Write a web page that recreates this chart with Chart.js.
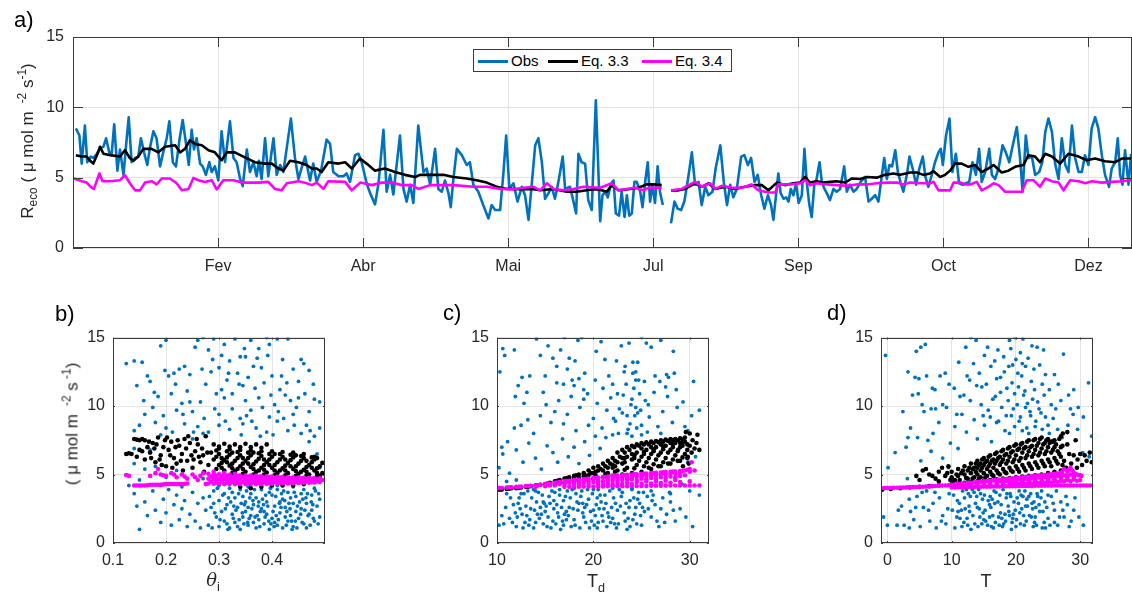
<!DOCTYPE html>
<html>
<head>
<meta charset="utf-8">
<script src="https://cdn.jsdelivr.net/npm/chart.js@4.4.1/dist/chart.umd.min.js"></script>
<style>
  body { margin: 0; width: 1132px; height: 595px; background: #fff; position: relative; overflow: hidden;
         font-family: "Liberation Sans", Arial, sans-serif; color: #262626; }
  canvas { position: absolute; }
  .txt { position: absolute; white-space: nowrap; line-height: 1; }
  .panel { font-size: 22px; color: #000; }
  .ytitle { position: absolute; white-space: nowrap; line-height: 1; transform: translate(-50%, -50%) rotate(-90deg); }
  .xtitle { position: absolute; white-space: nowrap; line-height: 1; transform: translateX(-50%); font-size: 18px; }
  sub, sup { font-size: 70%; line-height: 0; }
  #legend { position: absolute; left: 473px; top: 49px; width: 259px; height: 23px; border: 1px solid #3a3a3a; background: #fff; box-sizing: border-box; }
  #legend .key { position: absolute; top: 10px; width: 30px; height: 3px; }
  #legend .ktxt { position: absolute; top: 3px; font-size: 15px; line-height: 15px; color: #000; }
</style>
</head>
<body>
<canvas id="topChart" width="1132" height="300" style="left:0;top:0"></canvas>
<canvas id="chartB" width="282" height="253" style="left:53px;top:320px"></canvas>
<canvas id="chartC" width="282" height="253" style="left:437px;top:320px"></canvas>
<canvas id="chartD" width="282" height="253" style="left:821px;top:320px"></canvas>

<div class="txt panel" style="left:14px;top:9px">a)</div>
<div class="txt panel" style="left:55px;top:303px">b)</div>
<div class="txt panel" style="left:443px;top:302px">c)</div>
<div class="txt panel" style="left:827px;top:302px">d)</div>

<div class="ytitle" style="left:27px;top:141px;font-size:17px">R<sub>eco</sub> ( μ mol m <sup>&nbsp;-2</sup> s<sup>-1</sup>)</div>
<div class="ytitle" style="left:72px;top:424px;font-size:17px">( μ mol m <sup>&nbsp;-2</sup> s<sup>&nbsp;-1</sup>)</div>

<div class="xtitle" style="left:213px;top:571px;font-family:'DejaVu Serif','Liberation Serif',serif;font-style:italic">θ<sub style="font-style:normal;font-family:'Liberation Sans',Arial,sans-serif">i</sub></div>
<div class="xtitle" style="left:596px;top:572px">T<sub>d</sub></div>
<div class="xtitle" style="left:986px;top:572px">T</div>

<div id="legend">
  <span class="key" style="left:4px;background:#0072BD"></span><span class="ktxt" style="left:37px">Obs</span>
  <span class="key" style="left:74px;background:#000"></span><span class="ktxt" style="left:107px">Eq. 3.3</span>
  <span class="key" style="left:168px;background:#FF00FF"></span><span class="ktxt" style="left:201px">Eq. 3.4</span>
</div>

<script>
/* ===== tick labels ===== */
const monthTicks = [50, 100, 150, 200, 250, 300, 350];
const monthNames = ['Fev', 'Abr', 'Mai', 'Jul', 'Sep', 'Oct', 'Dez'];
const rTicks = [0, 5, 10, 15];
const thetaTicks = [0.1, 0.2, 0.3, 0.4];
const tdTicks = [10, 20, 30];
const tTicks = [0, 10, 20, 30];

/* ===== daily series, [day of year, value] (null = missing data) ===== */
const obsDaily = [[1.0,8.5],[2.2,8.0],[3.0,6.0],[4.1,8.7],[4.9,6.1],[6.1,6.5],[7.0,6.4],[8.2,6.7],[9.3,7.1],[10.5,7.2],[11.4,7.8],[12.5,6.8],[13.3,6.6],[14.2,8.8],[15.3,5.5],[16.2,7.0],[17.4,5.2],[18.3,7.3],[19.2,9.3],[20.2,6.1],[21.4,6.4],[22.5,6.5],[23.4,7.8],[24.5,6.8],[25.6,5.9],[26.5,7.1],[27.7,8.3],[28.8,7.8],[30.0,5.8],[31.1,6.8],[32.3,7.8],[33.2,9.0],[34.4,6.1],[35.5,5.8],[36.7,7.7],[37.8,9.1],[38.9,7.5],[39.9,5.9],[40.9,8.4],[41.7,7.0],[42.6,7.8],[43.8,6.0],[44.7,5.8],[45.8,5.2],[47.0,6.1],[47.8,5.4],[48.9,5.8],[50.1,4.8],[51.2,8.3],[52.4,6.1],[54.1,9.0],[55.3,6.4],[56.4,6.1],[57.6,4.9],[58.5,4.4],[59.9,7.0],
  [61.0,5.4],[62.2,6.1],[63.3,5.1],[64.1,6.2],[65.0,4.9],[66.2,7.8],[67.3,5.1],[69.1,7.8],[70.2,5.2],[71.4,5.9],[72.5,5.4],[75.1,9.2],[76.5,6.4],[77.7,4.9],[78.8,5.7],[80.0,6.5],[81.7,4.8],[82.8,6.0],[84.0,4.7],[85.5,5.5],[87.4,7.7],[88.6,7.4],[89.7,5.4],[91.5,5.1],[93.2,5.1],[94.3,5.3],[95.5,4.7],[97.2,6.6],[98.4,6.7],[99.5,6.1],[101.2,4.6],[102.4,3.9],[104.1,3.1],[105.3,4.6],[107.0,8.4],[108.1,4.0],[109.3,5.2],[110.4,3.8],[112.7,8.0],[113.9,4.2],[115.0,3.3],[116.2,4.5],[117.3,3.2],[119.0,8.7],
  [120.8,5.4],[121.9,5.65],[123.1,4.5],[124.8,7.05],[125.9,4.2],[127.1,4.0],[128.2,4.8],[129.4,3.9],[130.2,2.9],[131.1,4.9],[132.3,7.05],[134.0,6.6],[135.7,5.9],[136.8,6.1],[138.0,4.5],[139.7,4.0],[141.4,3.05],[143.2,2.1],[144.3,3.05],[145.5,2.7],[147.2,2.7],[148.3,5.2],[149.3,8.0],[150.4,4.2],[151.8,4.6],[153.2,3.3],[154.7,4.35],[155.8,3.75],[157.0,2.0],[158.1,4.5],[159.3,7.3],[160.4,7.8],[161.6,6.1],[162.7,3.5],[163.9,3.9],[165.0,4.35],[166.1,3.5],[167.3,4.7],[168.8,6.5],[169.6,4.2],[171.3,4.35],[172.5,3.3],[173.4,2.45],[174.2,6.7],[175.3,6.1],[176.5,6.0],[177.6,3.4],[178.8,2.7],[180.2,10.5],[181.7,1.9],[182.5,3.75],[183.4,4.0],[184.3,3.6],[185.5,4.6],[186.3,4.8],[187.1,2.45],[188.2,2.3],[189.1,4.0],[190.1,2.2],[190.9,3.75],[191.7,2.3],[192.6,2.45],[193.5,4.7],[194.3,4.7],[195.5,4.0],[196.3,2.9],[197.2,4.7],[198.1,6.1],[198.9,3.3],[199.7,4.5],[200.6,3.2],[201.5,5.8],[202.3,4.0],[203.3,3.05],[204.7,null],
  [206.1,1.75],[207.3,3.3],[208.4,2.8],[209.6,2.7],[210.7,3.3],[211.9,4.8],[213.3,6.8],[214.4,4.5],[215.6,4.7],[216.7,3.05],[217.9,4.35],[219.0,3.75],[220.4,4.0],[221.5,5.65],[223.1,7.3],[224.3,4.7],[225.4,3.05],[226.5,4.5],[227.6,3.6],[228.8,4.2],[230.3,6.5],[231.4,6.6],[232.6,5.9],[233.7,6.4],[234.9,4.7],[236.0,5.2],[237.2,3.75],[238.3,2.8],[239.5,3.75],[240.6,3.05],[241.4,2.0],[242.3,3.75],[243.1,5.3],[243.9,3.9],[244.9,3.5],[245.8,3.6],[246.6,3.3],[247.4,4.2],[248.3,3.75],[249.2,4.6],[250.1,3.2],[251.2,3.75],[252.1,7.05],[252.9,4.7],[253.8,3.05],[254.6,2.2],[255.5,4.5],[256.3,4.9],[257.3,6.1],[258.1,4.7],[259.0,4.2],[259.8,3.9],[260.9,3.4],[262.1,4.2],[263.2,4.0],[264.4,4.2],[265.8,5.8],[266.7,4.0],[267.8,4.5],[269.0,4.0],[270.1,4.2],[271.5,4.7],[273.0,5.05],[274.2,3.3],[275.3,3.5],[276.5,3.75],[277.6,3.3],[278.8,5.2],[279.6,6.4],[280.5,4.9],[281.4,5.9],[282.3,5.8],[283.4,6.95],[284.3,5.4],[285.3,4.6],[286.2,4.0],[287.4,5.2],[288.3,6.5],[289.4,5.65],[290.6,4.5],[291.7,5.65],[292.9,6.5],[293.8,5.05],[294.8,4.35],[296.0,5.2],[297.1,6.1],[298.3,6.8],[299.1,7.05],[299.8,5.9],[300.9,8.0],[302.1,9.2],
  [303.1,5.4],[304.3,6.7],[305.4,4.6],[306.6,4.5],[307.7,4.6],[308.9,4.7],[310.0,6.1],[311.2,5.2],[312.3,7.05],[313.2,4.7],[314.4,5.4],[315.8,7.05],[316.7,5.2],[317.8,4.9],[319.0,5.65],[320.4,7.3],[321.5,6.8],[322.7,6.1],[323.8,7.2],[325.3,8.6],[326.4,6.4],[327.3,4.0],[328.4,8.0],[329.3,6.4],[330.5,6.5],[331.6,5.2],[333.0,5.4],[334.1,6.1],[335.1,8.25],[336.2,9.2],[337.4,8.25],[338.5,6.0],[339.7,4.9],[340.8,7.8],[342.0,5.9],[343.1,5.4],[344.3,8.7],[345.4,6.4],[346.6,5.4],[347.7,5.4],[348.8,6.6],[350.0,5.9],[351.1,8.5],[352.3,9.3],[353.4,8.5],[354.6,6.6],[355.7,5.2],[357.1,4.35],[358.0,5.65],[359.2,6.1],[360.1,7.8],[360.9,5.2],[361.7,4.5],[362.6,6.95],[363.8,4.5],[364.7,6.7]];

const eq33Daily = [[1.0,6.6],[3.0,6.5],[4.7,6.5],[5.9,6.2],[7.0,6.0],[8.7,6.8],[9.3,7.2],[10.5,6.7],[12.8,6.6],[16.2,6.5],[17.9,6.95],[19.6,6.4],[20.8,6.2],[22.5,6.5],[24.2,7.05],[27.1,7.05],[29.4,6.8],[31.7,7.2],[35.2,7.3],[36.9,6.8],[38.6,7.05],[40.3,7.66],[42.1,7.4],[44.4,7.3],[46.7,6.95],[48.9,6.8],[51.2,6.24],[53.0,6.8],[55.8,6.8],[58.7,6.5],[62.7,6.1],[66.2,6.0],[68.5,6.0],[70.8,5.65],[72.5,5.5],[74.8,6.2],[77.7,6.1],[80.5,5.9],[82.3,5.65],[84.0,5.65],[85.7,5.4],[88.0,6.1],[91.5,6.0],[93.8,6.1],[96.1,5.65],[98.9,6.36],[101.2,6.0],[104.1,5.5],[107.5,5.65],[111.0,5.4],[114.4,5.2],[117.9,5.05],[119.6,5.2],[124.2,5.2],[127.7,5.2],[131.1,5.05],[135.7,4.94],[139.1,4.82],[142.6,4.65],[146.0,4.35],[149.5,4.2],[154.1,4.18],[158.7,4.18],[161.0,4.1],[165.6,4.2],[170.2,4.0],[173.6,4.0],[177.1,4.1],[179.9,4.18],[182.2,4.1],[184.0,4.0],[185.7,4.47],[188.0,4.1],[191.4,4.18],[194.9,4.28],[197.7,4.52],[200.0,4.52],[202.9,4.47],[204.7,null],
  [206.1,4.1],[208.7,4.1],[211.0,4.2],[214.4,4.6],[216.7,4.35],[219.0,4.6],[221.3,4.2],[224.8,4.35],[228.2,4.2],[231.6,4.35],[235.1,4.47],[237.4,4.47],[239.7,4.1],[242.6,4.65],[245.4,4.47],[248.3,4.6],[250.6,4.65],[252.3,5.05],[254.0,4.65],[256.3,4.75],[258.6,4.65],[261.0,4.7],[263.2,4.75],[266.1,4.65],[268.4,4.94],[271.3,4.9],[273.6,5.05],[277.0,5.0],[279.9,5.2],[282.8,5.3],[285.1,5.2],[288.5,5.37],[290.8,5.37],[293.1,5.2],[295.4,5.3],[296.6,5.46],[298.9,5.05],[300.6,5.2],[302.3,5.5],[304.0,6.0],[306.3,6.0],[308.6,5.77],[310.9,5.9],[313.2,5.4],[315.5,5.65],[317.3,5.9],[320.1,5.37],[322.4,5.5],[324.7,5.77],[327.6,5.9],[329.3,6.6],[331.6,6.5],[333.3,6.1],[335.1,6.7],[337.4,6.5],[340.2,6.0],[343.1,6.7],[346.6,6.5],[349.4,6.24],[352.3,6.36],[355.7,6.17],[359.2,6.1],[361.5,6.36],[364.9,6.36]];

const eq34Daily = [[0.3,4.94],[3.0,4.75],[4.7,4.65],[6.1,4.35],[7.2,4.2],[9.1,5.3],[10.2,4.75],[12.8,4.75],[16.2,4.82],[17.9,5.17],[19.6,4.6],[21.4,4.1],[23.1,4.1],[24.8,4.65],[27.1,4.75],[28.8,4.52],[30.6,4.94],[33.4,4.94],[35.7,4.6],[37.5,4.1],[39.8,4.2],[41.5,4.98],[43.2,4.82],[45.5,4.7],[47.8,4.82],[49.5,4.16],[51.8,4.82],[55.3,4.82],[57.6,4.7],[59.3,4.65],[63.9,4.65],[67.3,4.7],[69.6,4.2],[71.9,4.1],[73.7,4.6],[77.7,4.75],[80.5,4.6],[82.3,4.47],[84.0,4.65],[86.3,4.2],[88.0,4.75],[93.8,4.7],[96.1,4.1],[99.0,4.65],[103.0,4.47],[106.4,4.65],[109.9,4.65],[113.3,4.47],[116.7,4.47],[119.0,4.2],[123.1,4.47],[131.1,4.47],[138.0,4.35],[142.6,4.35],[147.2,4.2],[151.8,4.18],[155.2,4.28],[158.7,4.35],[161.0,4.1],[163.3,4.6],[165.6,4.2],[169.0,4.1],[172.5,4.2],[175.9,4.35],[181.7,4.28],[185.7,4.6],[188.0,4.1],[193.7,4.28],[196.6,4.1],[198.3,4.28],[202.9,4.28],[204.7,null],
  [206.1,4.1],[209.8,4.2],[214.4,4.7],[216.7,4.35],[219.6,4.6],[221.3,4.2],[223.6,4.42],[227.1,4.28],[230.5,4.28],[233.9,4.52],[236.2,4.1],[239.7,3.95],[242.0,3.95],[243.1,4.52],[247.2,4.52],[250.6,4.6],[252.3,4.82],[254.0,4.47],[256.3,4.6],[259.8,4.52],[263.2,4.47],[266.7,4.42],[270.1,4.52],[273.6,4.52],[277.0,4.6],[280.5,4.65],[284.0,4.65],[286.2,4.52],[288.5,4.65],[292.0,4.6],[295.4,4.6],[296.6,4.7],[298.3,4.1],[302.3,4.1],[303.5,4.65],[305.8,4.65],[307.5,4.52],[309.2,4.52],[311.5,4.7],[313.2,4.1],[315.5,4.35],[317.3,4.6],[319.0,4.47],[321.3,4.0],[327.0,4.0],[328.7,4.82],[331.0,4.82],[333.3,4.35],[335.1,4.94],[337.4,4.75],[339.7,4.65],[341.4,4.1],[343.7,4.82],[346.6,4.75],[348.9,4.6],[351.2,4.75],[354.6,4.65],[358.0,4.7],[361.5,4.75],[365.0,4.82]];

/* ===== b) Reco vs soil moisture theta_i ===== */
const obsTheta = [[0.125,13.1],[0.14,13.3],[0.155,13.2],[0.145,11.5],[0.165,12.2],[0.17,11.8],[0.19,14.4],[0.2,14.8],[0.205,12.2],[0.215,12.4],[0.225,12.7],[0.235,12.9],[0.245,12.3],[0.255,14.3],[0.26,14.8],[0.27,15],[0.28,14.1],[0.29,14.9],[0.3,12.8],[0.305,13.7],[0.31,14.5],[0.32,13.3],[0.33,14.9],[0.34,13.6],[0.35,13.6],[0.36,14.8],[0.365,12.9],[0.375,14.2],[0.38,12.8],[0.39,15],[0.395,14.5],[0.41,14.9],[0.42,13.4],[0.44,12.7],[0.455,13.4],[0.46,13.1],[0.47,12.6],[0.43,14.9],[0.335,12.4],[0.285,12.5],[0.315,11.9],[0.345,11.5],[0.355,12.1],[0.385,11.7],[0.4,12.2],[0.415,11.2],[0.425,10.8],[0.45,10.6],[0.48,10.5],[0.49,10.3],[0.47,9.6],[0.465,8.6],[0.44,9.4],[0.435,10.4],[0.405,10.1],[0.395,9.2],[0.375,10.6],[0.36,9.7],[0.35,10.4],[0.34,9.1],[0.325,9.8],[0.31,10.6],[0.3,9.4],[0.295,10.9],[0.275,11.6],[0.265,10.3],[0.25,9.6],[0.24,11.1],[0.23,10.2],[0.22,9.7],[0.21,10.9],[0.195,9.3],[0.185,10.7],[0.175,9.9],[0.16,9.4],[0.15,8.6],[0.14,8.2],[0.18,8.8],[0.2,8.4],[0.235,8.7],[0.26,8.5],[0.28,8.1],[0.3,8.6],[0.32,8.3],[0.345,8.7],[0.37,8.4],[0.39,8.1],[0.41,8.9],[0.43,8.2],[0.455,8.0],[0.48,7.8],[0.49,8.4],
  [0.305,11.2],[0.325,10.9],[0.338,11.6],[0.352,9.3],[0.368,11.3],[0.382,9.9],[0.398,10.8],[0.412,9.6],[0.428,11.7],[0.446,9.9],[0.462,10.9],[0.312,8.9],[0.342,7.9],[0.362,8.9],[0.378,7.8],[0.402,7.9],[0.422,9.1],[0.442,8.6],[0.472,8.2],[0.292,9.8],[0.272,9.1],[0.245,10.3],[0.218,11.6],[0.198,12.6],[0.178,11.0],[0.158,10.4],[0.212,8.1],[0.252,8.1],[0.232,9.4],[0.268,12.7],[0.288,13.4],[0.318,12.4],[0.348,14.2],[0.372,13.5],[0.392,13.7],[0.418,12.2],[0.45,11.8],[0.478,11.6],
  [0.14,6.9],[0.16,7.5],[0.47,7.4],[0.485,6.5],[0.49,5.5],[0.125,5.0],[0.13,4.2],[0.14,5.8],[0.15,4.6],[0.18,5.6],[0.2,4.8],[0.22,5.3],[0.17,6.8],[0.19,7.9],[0.25,7.6],[0.27,8.0],[0.32,4.5],[0.36,4.6],[0.4,4.5],[0.45,4.6],[0.48,4.0],[0.27,4.7],[0.23,4.1],[0.19,4.2],[0.16,5.4],
  [0.14,3.6],[0.145,2.7],[0.15,1.0],[0.16,3.0],[0.165,2.0],[0.175,3.8],[0.18,2.4],[0.19,1.5],[0.195,3.2],[0.2,2.2],[0.205,3.9],[0.21,1.3],[0.215,2.8],[0.22,3.5],[0.225,1.7],[0.23,2.5],[0.235,3.1],[0.24,1.2],[0.245,2.1],[0.25,3.7],[0.255,1.6],[0.26,2.9],[0.265,1.1],[0.27,3.3],[0.275,2.4],
  [0.28,1.3],[0.285,2.6],[0.29,3.8],[0.295,1.9],[0.3,3.1],[0.3,1.2],[0.305,2.3],[0.31,3.6],[0.31,1.6],[0.315,2.8],[0.32,4.0],[0.32,1.1],[0.325,2.1],[0.33,3.3],[0.33,1.5],[0.335,2.6],[0.34,3.9],[0.34,1.0],[0.345,1.9],[0.35,3.0],[0.35,2.3],[0.355,1.3],[0.36,3.6],[0.36,2.0],[0.365,2.8],[0.37,1.1],[0.37,3.3],[0.375,1.7],[0.38,2.5],[0.38,3.9],[0.385,1.4],[0.39,3.0],[0.39,2.1],[0.395,1.0],[0.4,3.5],[0.4,1.8],[0.405,2.7],[0.41,1.3],[0.41,3.9],[0.415,2.2],[0.42,3.2],[0.42,1.1],[0.425,2.6],[0.43,1.6],[0.43,3.7],[0.435,2.0],[0.44,2.9],[0.44,1.2],[0.445,3.4],[0.45,1.8],[0.455,2.5],[0.46,3.9],[0.46,1.4],[0.465,2.9],[0.47,2.1],[0.475,3.5],[0.48,1.6],[0.485,2.7],[0.49,3.2],[0.49,1.9],
  [0.29,2.9],[0.3,4.2],[0.315,1.4],[0.325,3.7],[0.335,1.2],[0.345,3.4],[0.355,2.6],[0.365,1.5],[0.375,3.0],[0.385,2.3],[0.395,3.7],[0.405,1.5],[0.415,3.0],[0.425,1.9],[0.435,3.3],[0.445,2.3],[0.455,3.6],[0.465,1.1],[0.475,2.4],[0.355,4.1],[0.38,4.3],[0.41,4.2],[0.33,4.4],[0.44,4.1],
  [0.282,3.4],[0.287,1.1],[0.292,2.2],[0.297,4.0],[0.302,1.7],[0.307,3.5],[0.312,2.5],[0.317,1.0],[0.322,3.0],[0.327,1.8],[0.332,2.4],[0.337,3.6],[0.342,2.9],[0.347,1.4],[0.352,3.8],[0.357,1.8],[0.362,2.5],[0.367,3.9],[0.372,2.0],[0.377,1.2],[0.382,3.2],[0.387,1.9],[0.392,2.7],[0.397,4.0],[0.402,2.3],[0.407,3.4],[0.412,1.7],[0.417,2.6],[0.422,3.8],[0.427,1.3],[0.432,2.9],[0.437,1.6],[0.442,3.7],[0.447,1.1],[0.452,3.0],[0.457,1.5],[0.462,2.4],[0.467,3.6],[0.472,1.3],[0.477,2.8],[0.482,3.8],[0.487,1.4],[0.318,3.3],[0.328,2.7],[0.338,1.7],[0.348,2.8],[0.358,3.3],[0.368,1.9],[0.378,2.3],[0.388,3.5],[0.398,1.4],[0.408,2.0],[0.418,3.6],[0.428,2.3],[0.438,1.0],[0.448,2.7],[0.458,3.2],[0.468,2.0],[0.478,1.8],[0.488,3.6],[0.344,2.2],[0.364,3.1],[0.384,2.8],[0.404,1.2],[0.424,3.1],[0.444,1.6],[0.464,3.3],[0.354,1.5],[0.374,2.7],[0.394,1.6],[0.414,2.9],[0.434,2.5],[0.454,2.1],[0.474,3.0]];

const eq33Theta = [[0.125,6.5],[0.13,6.55],[0.135,6.5],[0.14,7.6],[0.145,7.55],[0.15,7.5],[0.155,7.6],[0.16,7.5],[0.145,6.3],[0.15,6.8],[0.16,6.1],[0.165,7.0],[0.17,6.6],[0.175,7.3],[0.18,5.9],[0.185,7.7],[0.19,6.4],[0.195,7.0],[0.2,5.6],[0.205,6.8],[0.21,7.4],[0.215,6.2],[0.22,5.8],[0.225,7.1],[0.23,6.5],[0.235,7.6],[0.24,6.0],[0.245,7.3],[0.25,5.5],[0.255,6.7],[0.26,7.2],[0.265,5.9],[0.27,6.4],[0.275,7.8],[0.28,5.7],
  [0.168,7.4],[0.178,6.9],[0.188,6.1],[0.198,7.5],[0.208,6.4],[0.218,7.0],[0.228,6.0],[0.238,6.9],[0.248,6.4],[0.258,7.6],[0.268,6.9],[0.278,6.6],[0.155,6.7],[0.172,6.2],[0.192,5.7],[0.212,5.5],[0.232,5.3],[0.252,6.1],[0.272,5.2],[0.182,7.2],[0.202,7.7],[0.222,7.5],[0.242,7.8],[0.262,6.3],
  [0.29,7.2],[0.31,7.25],[0.33,7.2],[0.35,7.25],[0.37,7.2],[0.39,7.2],[0.3,7.05],[0.32,7.05],[0.34,7.0],[0.36,7.0],[0.38,6.95],
  [0.3,6.9],[0.32,6.85],[0.34,6.8],[0.36,6.75],[0.38,6.7],[0.4,6.7],[0.42,6.65],[0.44,6.6],[0.46,6.5],[0.48,6.3],
  [0.3,6.5],[0.32,6.45],[0.34,6.4],[0.36,6.4],[0.38,6.35],[0.4,6.3],[0.42,6.3],[0.44,6.25],[0.46,6.2],[0.48,6.1],
  [0.29,6.1],[0.31,6.05],[0.33,6.0],[0.35,6.0],[0.37,5.95],[0.39,5.9],[0.41,5.9],[0.43,5.85],[0.45,5.8],[0.47,5.7],[0.49,5.6],
  [0.3,5.7],[0.32,5.65],[0.34,5.6],[0.36,5.55],[0.38,5.5],[0.4,5.5],[0.42,5.45],[0.44,5.4],[0.46,5.35],[0.48,5.3],
  [0.31,5.3],[0.33,5.25],[0.35,5.2],[0.37,5.2],[0.39,5.15],[0.41,5.1],[0.43,5.1],[0.45,5.05],[0.47,5.0],[0.49,4.9],
  [0.34,4.1],[0.36,4.0],[0.38,4.1],[0.4,4.2],[0.42,4.2],[0.44,4.2],[0.46,4.3],
  [0.285,6.6],[0.295,5.4],[0.305,6.2],[0.315,5.9],[0.325,6.6],[0.335,5.4],[0.345,6.2],[0.355,5.8],[0.365,6.6],[0.375,5.3],[0.385,6.1],[0.395,5.7],[0.405,6.5],[0.415,5.3],[0.425,6.1],[0.435,5.6],[0.445,6.4],[0.455,5.2],[0.465,6.0],[0.475,5.5],[0.485,6.2],[0.495,5.1],
  [0.295,6.75],[0.315,6.7],[0.335,6.65],[0.355,6.6],[0.375,6.55],[0.395,6.5],[0.415,6.5],[0.435,6.45],[0.455,6.35],[0.475,6.25],
  [0.295,6.3],[0.315,6.25],[0.335,6.2],[0.355,6.2],[0.375,6.15],[0.395,6.1],[0.415,6.1],[0.435,6.05],[0.455,6.0],[0.475,5.9],[0.495,5.85],
  [0.305,5.85],[0.325,5.8],[0.345,5.8],[0.365,5.75],[0.385,5.7],[0.405,5.7],[0.425,5.65],[0.445,5.6],[0.465,5.55],[0.485,5.45],
  [0.305,5.5],[0.325,5.45],[0.345,5.4],[0.365,5.4],[0.385,5.35],[0.405,5.3],[0.425,5.3],[0.445,5.25],[0.465,5.2],[0.485,5.1],
  [0.325,5.1],[0.345,5.05],[0.365,5.0],[0.385,5.0],[0.405,4.95],[0.425,4.95],[0.445,4.9],[0.465,4.9],[0.485,4.85]];

const eq34Theta = [[0.125,4.95],[0.13,4.9],[0.14,4.2],[0.15,4.2],[0.16,4.2],[0.17,4.25],[0.18,4.25],[0.19,4.25],[0.2,4.3],[0.21,4.3],[0.22,4.3],[0.23,4.3],[0.24,4.35],[0.145,4.2],[0.155,4.2],[0.165,4.22],[0.175,4.25],[0.185,4.25],[0.195,4.28],[0.205,4.3],[0.215,4.3],[0.225,4.3],[0.235,4.32],
  [0.17,4.9],[0.18,5.1],[0.185,5.4],[0.19,5.0],[0.2,4.9],[0.21,5.1],[0.22,4.8],[0.23,5.0],[0.24,4.7],[0.25,5.0],[0.26,4.6],[0.27,5.1],[0.275,4.3],[0.29,5.2],[0.31,5.1],[0.33,5.05],[0.195,4.95],[0.215,5.0],[0.235,4.85],[0.255,4.8],[0.265,4.9],
  [0.28,5.05],[0.29,5.03],[0.3,5.02],[0.31,5.0],[0.32,4.98],[0.33,4.97],[0.34,4.95],[0.35,4.93],[0.36,4.92],[0.37,4.9],[0.38,4.88],[0.39,4.87],[0.4,4.85],[0.41,4.83],[0.42,4.82],[0.43,4.8],[0.44,4.79],[0.45,4.78],[0.46,4.77],[0.47,4.76],[0.48,4.75],[0.49,4.72],
  [0.28,4.7],[0.29,4.7],[0.3,4.68],[0.31,4.67],[0.32,4.66],[0.33,4.65],[0.34,4.64],[0.35,4.63],[0.36,4.62],[0.37,4.61],[0.38,4.6],[0.39,4.6],[0.4,4.59],[0.41,4.58],[0.42,4.58],[0.43,4.57],[0.44,4.56],[0.45,4.56],[0.46,4.55],[0.47,4.55],[0.48,4.55],[0.49,4.55],
  [0.28,4.35],[0.29,4.33],[0.3,4.32],[0.31,4.3],[0.32,4.3],[0.33,4.3],[0.34,4.3],[0.35,4.3],[0.36,4.3],[0.37,4.3],[0.38,4.3],[0.39,4.32],[0.4,4.32],[0.41,4.33],[0.42,4.34],[0.43,4.35],[0.44,4.36],[0.45,4.38],[0.46,4.4],[0.47,4.4],[0.48,4.42],[0.49,4.45],
  [0.285,4.85],[0.305,4.85],[0.325,4.82],[0.345,4.8],[0.365,4.78],[0.385,4.75],[0.405,4.72],[0.425,4.7],[0.445,4.68],[0.465,4.66],[0.485,4.64],
  [0.285,4.5],[0.305,4.5],[0.325,4.48],[0.345,4.47],[0.365,4.46],[0.385,4.45],[0.405,4.45],[0.425,4.46],[0.445,4.46],[0.465,4.47],[0.485,4.5],
  [0.295,4.92],[0.315,4.9],[0.335,4.88],[0.355,4.86],[0.375,4.84],[0.395,4.8],[0.415,4.78],[0.435,4.74],[0.455,4.72],[0.475,4.7],
  [0.295,4.58],[0.315,4.57],[0.335,4.56],[0.355,4.55],[0.375,4.53],[0.395,4.52],[0.415,4.52],[0.435,4.5],[0.455,4.5],[0.475,4.5],[0.495,4.6],
  [0.295,4.42],[0.315,4.4],[0.335,4.38],[0.355,4.38],[0.375,4.38],[0.395,4.38],[0.415,4.39],[0.435,4.4],[0.455,4.42],[0.475,4.44]];

/* ===== c) Reco vs Td ===== */
const obsTd = [[10.3,12.5],[10.6,14.2],[10.8,13.7],[11.8,14.1],[12.2,11.5],[12.6,12.1],[13.1,11.0],[13.4,12.2],[14.1,14.9],[14.5,13.7],[15.3,14.4],[15.8,13.5],[16.2,12.9],[16.6,14.1],[17,15],[17.3,12.7],[17.8,11.9],[18.1,13.3],[18.4,14.8],[18.8,15],[19.1,12.4],[19.4,10.9],[20.3,14.0],[20.8,14.7],[21.2,13.4],[21.6,12.2],[22,11.6],[22.4,13.3],[22.9,14.4],[23.2,12.5],[23.7,14.6],[24.1,13.2],[24.4,12.5],[24.7,11.9],[25,15],[25.5,14.6],[26,14.3],[26.4,12.2],[27,14.8],[27.6,12.3],[28.3,14.0],[28.6,11.2],[29.3,10.3],[30.4,11.8],[31,9.7],
  [10.5,7.0],[11.1,7.4],[11.8,8.4],[12.5,8.6],[13.2,9.0],[13.8,8.0],[14.5,9.3],[15.1,10.1],[15.6,8.8],[16,9.6],[16.4,10.4],[16.9,8.7],[17.3,9.4],[17.7,10.7],[18.2,8.2],[18.6,9.9],[19,10.5],[19.5,8.6],[20,9.1],[20.4,10.2],[20.9,8.4],[21.4,9.7],[21.8,10.6],[22.3,8.9],[22.7,9.8],[23.1,10.8],[23.5,9.3],[23.9,10.1],[24.2,11.3],[24.6,9.5],[25,8.6],[25.4,10.4],[25.8,9.2],[26.3,11.0],[26.7,8.5],[27.2,9.6],[27.7,10.7],[28.2,8.8],[28.7,9.9],[29.5,8.5],[30.2,9.3],[24.4,9.9],[24.8,10.9],[23.6,8.3],[25.6,8.1],
  [22.1,9.1],[22.5,10.9],[23.0,9.5],[23.4,11.6],[23.8,8.7],[24.0,10.5],[24.3,9.3],[24.5,8.4],[24.9,9.7],[25.3,11.8],[25.7,10.1],[24.1,12.4],[24.4,11.9],[23.3,12.9],[24.6,13.2],[18.5,12.0],[18.0,11.5],[17.5,13.5],[19.0,11.2],[16.2,11.7],[15.0,12.2],[21.0,11.3],[26.9,11.8],[27.8,12.1],[28.4,12.4],[12.8,10.2],[11.9,10.7],[14.8,11.0],[16.9,11.6],[20.2,11.9],[27.5,11.4],[29.8,8.2],[27.0,8.0],[25.0,7.9],[24.0,7.8],[23.5,8.0],
  [10.2,5.5],[10.6,6.5],[11.3,5.1],[12,6.8],[12.7,5.9],[13.3,7.3],[14,6.2],[14.6,5.4],[15.2,7.1],[15.8,6.6],[16.3,5.9],[16.8,7.6],[17.4,6.3],[18,7.0],[18.5,5.8],[19.1,7.4],[19.6,6.4],[20.2,7.8],[20.7,6.9],[21.3,7.7],[22,7.9],[22.6,8.0],[28.5,4.6],[29.2,4.3],[30,3.8],[31,3.5],[29.8,5.9],[30.6,6.3],
  [12.5,3.6],[14.0,3.8],[16.5,3.9],[18.0,4.0],[20.5,3.9],[22.0,4.0],[24.0,4.0],[26.0,3.8],[28.0,3.6],[11.0,4.5],[12.0,4.6],
  [10.2,1.3],[10.5,2.0],[11,3.6],[11.3,1.8],[11.7,2.8],[12,1.2],[12.3,3.3],[12.6,2.1],[12.9,1.5],[13.2,3.8],[13.5,2.5],[13.8,1.1],[14.1,3.0],[14.4,1.8],[14.7,3.5],[15,2.3],[15.2,1.2],[15.5,2.9],[15.8,1.6],[16,3.7],[16.3,2.2],[16.6,1.0],[16.9,3.1],[17.2,1.7],[17.5,2.6],[17.8,3.9],[18.1,1.3],[18.4,2.4],[18.7,3.4],[19,1.9],[19.3,2.8],[19.6,1.1],[19.9,3.6],[20.2,2.0],[20.5,1.5],[20.8,3.0],[21.1,2.5],[21.4,1.2],[21.7,3.8],[22,1.8],[22.3,2.9],[22.6,1.4],[22.9,3.4],[23.2,2.2],[23.5,1.0],[23.8,3.1],[24.1,1.7],[24.4,2.6],[24.7,3.7],[25,1.3],[25.3,2.3],[25.6,3.4],[26,1.9],[26.4,2.8],[26.8,1.2],[27.2,3.3],[27.6,2.1],[28,3.0],[28.5,1.6],[29,2.5],[29.6,1.9],[30.3,1.2],
  [13,2.7],[13.6,3.3],[14.2,2.1],[14.8,1.4],[15.4,3.4],[16.1,1.4],[16.7,2.6],[17.1,3.4],[17.7,1.2],[18.3,3.0],[18.9,2.2],[19.5,3.2],[20.1,1.3],[20.6,2.5],[21.2,3.5],[21.8,1.5],[22.5,2.4],[23,3.7],[23.6,1.8],[24.2,3.3],[24.9,2.0],[14.5,2.6],[15.9,2.5],[17.4,2.0],[19.1,2.6],[20.4,3.3],[12.4,2.5],[11.6,1.5],
  [12.1,1.9],[12.8,3.6],[13.3,1.3],[13.9,2.4],[14.3,3.7],[14.9,2.9],[15.3,1.9],[15.7,3.8],[16.2,2.8],[16.8,1.6],[17.2,2.3],[17.6,3.3],[18.0,1.7],[18.5,2.9],[18.8,3.8],[19.2,1.5],[19.7,2.3],[20.0,3.9],[20.4,1.1],[20.9,2.0],[21.3,2.9],[21.6,1.9],[22.1,3.3],[22.4,1.1],[22.8,2.7],[23.3,1.6],[23.7,2.6],[24.0,3.9],[24.5,1.4],[24.8,2.9],[25.2,3.7],[25.7,2.5],[26.2,3.5],[26.6,1.6],[27.0,2.5],[27.4,1.5],[27.9,3.7],[28.3,2.4],[11.4,3.3],[12.2,2.9],[13.1,2.0],[13.8,3.9],[14.6,2.1],[15.6,1.1],[16.5,3.5],[17.3,3.8],[17.9,2.5],[18.6,1.1],[19.4,3.9],[20.3,2.8],[21.0,1.6],[21.9,2.6],[22.7,3.9],[23.4,2.9],[24.3,2.1],[25.1,2.6],[26.1,3.1],[13.4,1.7],[14.0,1.5],[15.1,2.7],[16.4,1.9],[17.0,2.1],[18.2,3.6],[19.8,1.6],[20.7,3.5],[21.5,2.2],[22.2,1.4],[23.8,1.2],[24.6,3.2],[15.9,3.1],[14.8,3.0],[16.9,1.3],[18.9,2.9],[20.0,2.4],[12.7,1.1],[11.9,2.2],[10.9,2.6],[10.7,1.4]];

const eq33Td = [[10,3.9],[10.5,3.9],[11,3.95],[11.5,4.0],[12,4.0],[12.5,4.05],[13,4.1],[13.5,4.15],[14,4.2],[14.5,4.25],[15,4.3],[15.5,4.4],[16,4.5],[16.5,4.6],[17,4.7],[17.5,4.8],[18,4.9],[18.5,5.0],[19,5.1],[19.5,5.3],[20,5.5],[20.5,5.6],[21,5.8],[21.5,6.0],[22,6.2],[22.5,6.6],[23,6.8],[23.5,7.0],[24,7.1],[24.5,7.2],[25,7.3],[25.5,7.35],[26,7.4],[26.5,7.45],[27,7.5],[27.5,7.55],[28,7.6],[28.5,7.6],[29,7.65],[29.5,7.7],
  [10.25,3.9],[11.25,3.97],[12.25,4.02],[13.25,4.12],[14.25,4.22],[15.25,4.35],[16.25,4.55],[17.25,4.75],[18.25,4.95],[17.5,4.6],[18.5,4.75],[19.5,4.95],[16.5,4.4],[15.5,4.25],
  [16,4.3],[17,4.4],[18,4.5],[19,4.6],[20,4.7],[21,4.8],[22,4.9],[23,5.0],[24,5.1],[25,5.2],[26,5.4],[27,5.6],[28,5.8],[29,6.0],
  [18,4.7],[19,4.85],[20,5.1],[21,5.3],[22,5.5],[23,5.8],[24,6.1],[25,6.3],[26,6.5],[27,6.6],[28,6.8],[29,7.0],[30,7.1],
  [20.5,5.3],[21.5,5.5],[22.5,5.9],[23.5,6.3],[24.5,6.6],[25.5,6.8],[26.5,7.0],[27.5,7.1],[28.5,7.3],[29.5,7.4],
  [21.5,5.1],[22.5,5.3],[23.5,5.5],[24.5,5.7],[25.5,5.9],[26.5,6.1],[27.5,6.2],[28.5,6.4],[29.5,6.5],
  [22,5.7],[23,6.2],[24,6.5],[25,6.9],[26,7.0],[27,7.2],[28,7.3],[29,7.3],
  [19.25,4.9],[19.75,5.1],[20.25,5.2],[20.75,5.4],[21.25,5.6],[21.75,5.8],[22.25,6.0],[22.75,6.3],[23.25,6.6],[23.75,6.8],[24.25,7.0],[24.75,7.1],[25.25,7.2],[25.75,7.2],[26.25,7.3],[26.75,7.35],[27.25,7.4],[27.75,7.45],[28.25,7.5],[28.75,7.5],[29.25,7.55],
  [20.25,4.9],[21.25,5.05],[22.25,5.2],[23.25,5.35],[24.25,5.45],[25.25,5.6],[26.25,5.75],[27.25,5.9],[28.25,6.1],[29.25,6.25],
  [22.25,5.6],[23.25,5.9],[24.25,6.2],[25.25,6.5],[26.25,6.7],[27.25,6.85],[28.25,7.0],[29.25,7.1],
  [23.25,6.2],[24.25,6.4],[25.25,6.65],[26.25,6.85],[27.25,7.05],[28.25,7.2],[29.25,7.3],
  [24.75,6.0],[25.75,6.2],[26.75,6.4],[27.75,6.6],[28.75,6.7],
  [25.75,5.5],[26.75,5.6],[27.75,5.8],[28.75,6.0],[29.75,6.2],[29.75,6.8],[29.75,7.2],
  [29.8,6.3],[30,8.0],[30.3,7.5],[30.5,6.9],[30.8,7.9],[31,6.8],[30.2,6.6],[29.9,5.8],[30.7,7.3],[29.6,8.1],[28.8,6.8],[29.3,5.6]];

const eq34Td = [[10,4.0],[10.5,4.02],[11,4.05],[11.5,4.07],[12,4.1],[12.5,4.12],[13,4.15],[13.5,4.18],[14,4.2],[14.5,4.25],[15,4.3],[15.5,4.35],[16,4.4],[16.5,4.45],[17,4.5],[17.5,4.55],[18,4.6],[18.5,4.62],[19,4.65],[19.5,4.7],[20,4.75],[20.5,4.78],[21,4.8],[21.5,4.85],[22,4.9],[22.5,4.92],[23,4.95],[23.5,4.98],[24,5.0],[24.5,5.02],[25,5.05],[25.5,5.08],[26,5.1],[26.5,5.12],[27,5.15],[27.5,5.18],[28,5.2],[28.5,5.22],[29,5.25],[29.5,5.3],[30,5.4],[30.2,5.9],[30.5,5.3],
  [10.25,4.01],[11.25,4.06],[12.25,4.11],[13.25,4.16],[14.25,4.22],[15.25,4.32],[16.25,4.42],[17.25,4.52],[18.25,4.61],[19.25,4.67],[20.25,4.76],[21.25,4.82],[22.25,4.91],[23.25,4.96],[24.25,5.01],[25.25,5.06],[26.25,5.11],[27.25,5.16],[28.25,5.21],[29.25,5.27],[29.75,5.35],
  [17,4.1],[18,4.1],[19,4.12],[20,4.12],[21,4.13],[22,4.15],[23,4.15],[24,4.16],[25,4.17],[26,4.18],[27,4.18],[28,4.2],[29,4.2],[30,4.2],[31,4.2],
  [17.5,4.1],[18.5,4.11],[19.5,4.12],[20.5,4.12],[21.5,4.14],[22.5,4.15],[23.5,4.15],[24.5,4.16],[25.5,4.17],[26.5,4.18],[27.5,4.19],[28.5,4.2],[29.5,4.2],[30.5,4.2],
  [14,4.1],[15,4.15],[16,4.2],[17,4.3],[18,4.35],[19,4.4],[20,4.45],[21,4.5],[22,4.55],[23,4.6],[24,4.65],[25,4.7],[26,4.75],[27,4.8],[28,4.85],[29,4.9],
  [15.5,4.2],[16.5,4.3],[17.5,4.4],[18.5,4.45],[19.5,4.5],[20.5,4.5],[21.5,4.55],[22.5,4.6],[23.5,4.65],[24.5,4.6],[25.5,4.65],[26.5,4.7],[27.5,4.75],[28.5,4.8],[29.5,4.95],
  [18.5,4.25],[19.5,4.3],[20.5,4.3],[21.5,4.35],[22.5,4.4],[23.5,4.4],[24.5,4.45],[25.5,4.5],[26.5,4.5],[27.5,4.55],[28.5,4.6],
  [21,4.25],[22,4.28],[23,4.3],[24,4.3],[25,4.32],[26,4.35],[27,4.38],[28,4.4],[29,4.45],[30,4.5],
  [20.5,4.6],[21.5,4.7],[22.5,4.75],[23.5,4.8],[24.5,4.85],[25.5,4.9],[26.5,4.95],[27.5,5.0],[28.5,5.05],
  [22,4.7],[23,4.78],[24,4.82],[25,4.88],[26,4.92],[27,4.98],[28,5.05],[29,5.1],[30,5.2]];

/* ===== d) Reco vs T ===== */
const obsT = [[-0.3,13.7],[4.5,14.0],[5.2,14.3],[5.9,14.5],[3.2,12.5],[4.3,12.1],[4.9,12.0],[6.1,12.2],[8.2,12.2],[7.4,11.2],[7.0,11.3],[3.9,10.8],[4.8,10.9],[5.4,10.1],[7.5,9.8],[8.6,10.1],[9.6,11.6],[10.4,11.3],[11.1,13.2],[11.3,10.7],[12.2,14.3],[12.4,12.2],[13,15],[13.4,13.1],[13.8,14.8],[14.3,12.4],[14.7,11.4],[15.1,13.7],[15.6,14.3],[16.1,12.9],[16.7,13.3],[17.2,14.1],[17.6,12.1],[18.1,13.6],[18.6,11.3],[19,14.8],[19.5,13.0],[19.9,15],[20.3,12.4],[20.7,13.9],[21.1,14.9],[21.5,12.9],[21.9,13.5],[22.4,11.8],[22.8,12.7],[23.3,14.3],[23.7,13.0],[24.1,11.6],[24.6,12.3],[25.2,11.2],[26,12.3],[26.6,11.6],[27.4,13.8],[28.2,10.8],[29,11.2],[29.7,9.9],[30.5,9.2],[31.3,11.7],[31.8,7.8],
  [15.4,11.6],[16.4,10.5],[17.0,12.0],[17.6,11.0],[18.2,12.5],[18.9,12.9],[19.4,11.7],[19.8,10.9],[20.4,11.4],[20.9,12.2],[21.4,11.1],[21.8,10.2],[22.3,9.3],[22.9,11.2],[23.4,10.3],[23.9,9.5],[20.0,13.4],[21.0,13.1],[19.2,14.2],[22.5,14.4],[24.3,14.1],[18.5,9.3],[19.6,9.8],[20.5,8.9],[21.5,9.9],[17.0,8.8],[16.0,9.2],[24.4,10.8],[25.5,10.1],[26.2,9.8],[27.0,10.4],[28.5,9.8],[13.9,11.5],[12.8,11.9],[14.9,9.3],[22.0,8.0],[23.0,8.5],[21.0,8.2],[19.0,8.0],[25.0,8.6],[9.0,12.4],[10.8,9.4],[11.9,10.8],[6.8,9.8],[3.2,7.7],[2.4,9.6],
  [1.2,6.6],[0.1,5.5],[2.9,7.0],[3.6,8.4],[4.7,7.7],[5.7,9.6],[6.3,7.5],[7.1,8.0],[8.0,8.8],[9.2,9.9],[9.8,7.3],[10.5,8.5],[11,6.9],[11.6,9.4],[12.3,8.1],[12.9,10.4],[13.5,9.0],[14,7.6],[14.6,10.1],[15.1,8.6],[15.7,9.7],[16.2,7.4],[16.8,10.7],[17.3,8.9],[17.8,9.9],[18.3,8.2],[18.8,10.4],[19.3,9.3],[19.8,8.5],[20.2,10.1],[20.7,9.2],[21.2,10.8],[21.7,8.4],[22.2,9.6],[22.6,10.5],[23.1,8.9],[23.6,9.8],[24.1,8.3],[24.6,9.2],[25.2,8.0],[25.8,9.1],[26.5,8.3],[27.2,7.7],[28.1,8.6],[28.9,9.4],[29.6,8.3],[30.4,6.6],[31.4,6.3],[5.2,6.0],[6.8,6.7],[8.6,6.2],[9.5,5.5],
  [-0.6,1.9],[0,1.3],[1.5,1.3],[2.2,2.7],[3.1,4.7],[3.6,2.3],[4.1,1.7],[4.6,3.4],[5.1,1.2],[5.6,2.6],[6.1,3.8],[6.6,1.6],[7.1,2.9],[7.6,1.1],[8.1,3.3],[8.6,2.0],[9.1,1.4],[9.6,3.6],[10.1,2.4],[10.5,1.1],[10.9,3.1],[11.3,1.8],[11.7,3.8],[12.1,2.5],[12.5,1.3],[12.9,3.4],[13.3,2.0],[13.7,2.9],[14.1,1.2],[14.5,3.6],[14.9,2.2],[15.3,1.6],[15.7,3.1],[16.1,2.6],[16.5,1.1],[16.9,3.7],[17.3,1.9],[17.7,2.8],[18.1,1.4],[18.5,3.3],[18.9,2.3],[19.3,1.0],[19.7,3.0],[20.1,1.7],[20.5,3.8],[20.9,2.5],[21.3,1.3],[21.7,3.2],[22.1,2.0],[22.5,2.9],[22.9,1.5],[23.3,3.6],[23.7,2.3],[24.1,1.1],[24.5,3.0],[25,1.8],[25.5,3.4],[26,2.4],[26.5,1.3],[27,3.0],[27.5,1.9],[28,2.8],[28.6,1.6],[29.2,3.3],[29.8,1.9],[30.5,1.3],
  [11,2.3],[11.9,1.5],[12.7,2.7],[13.5,3.7],[14.3,2.5],[15.1,3.5],[15.9,1.9],[16.7,2.9],[17.5,3.5],[18.3,2.1],[19.1,3.6],[19.9,2.4],[20.7,1.4],[21.5,2.7],[22.3,3.6],[23.1,2.6],[23.9,3.3],[12.3,3.9],[14.7,1.4],[16.3,3.2],[17.9,1.2],[19.5,1.8],[21.1,3.4],[22.7,1.2],
  [10.3,3.5],[10.8,1.9],[11.2,2.9],[11.6,1.2],[12.0,3.3],[12.4,1.8],[12.8,2.3],[13.2,3.9],[13.6,1.4],[14.0,2.6],[14.4,1.9],[14.8,3.2],[15.2,2.4],[15.6,1.3],[16.0,3.4],[16.4,2.0],[16.8,1.5],[17.2,3.0],[17.6,2.2],[18.0,3.9],[18.4,1.6],[18.8,2.7],[19.2,3.4],[19.6,2.1],[20.0,1.2],[20.4,2.9],[20.8,3.5],[21.2,2.0],[21.6,1.6],[22.0,3.4],[22.4,1.9],[22.8,3.0],[23.2,1.3],[23.6,2.8],[24.0,3.8],[24.4,1.5],[24.8,2.6],[25.3,1.3],[25.8,2.9],[26.3,3.8],[26.8,1.9],[27.3,2.4],[27.8,3.4],[28.3,1.2],[29.0,2.4],[11.5,2.4],[12.6,3.6],[13.9,3.4],[15.0,1.7],[15.9,2.8],[16.6,3.8],[17.4,1.3],[18.6,3.6],[19.4,1.5],[20.6,2.2],[21.4,3.8],[22.6,2.5],[23.4,3.4],[24.2,2.3],[25.0,3.5],[26.0,1.5],[13.0,1.0],[14.2,3.9],[16.2,1.2],[17.8,1.8],[19.0,2.0],[20.2,3.3],[21.8,2.7],[23.0,1.9],[24.6,1.1],[9.4,2.5],[8.4,1.6],[7.4,3.7],[6.4,2.4],[5.4,3.7],[4.4,2.6],[3.4,3.2],[2.6,1.3],[1.7,2.4],[3.4,1.1]];

const eq33T = [[-0.8,3.9],[0.5,3.95],[2,4.0],[3.5,4.05],[5,4.1],[6.5,4.15],[8,4.2],[4.5,4.9],[5.5,5.3],[6.5,5.0],[7.5,4.7],[8.5,5.5],[9.3,5.1],[9.8,4.6],[5,4.6],[6,5.4],[7,4.9],[8,5.2],[9,4.9],[9.5,5.6],[8,4.5],
  [10,4.3],[10,4.8],[10,5.2],[11,4.35],[11,4.9],[11,5.4],[12,4.4],[12,5.0],[12,5.6],[13,4.45],[13,5.1],[13,5.8],[14,4.5],[14,5.0],[14,5.5],[14,6.0],[15,4.55],[15,5.1],[15,5.7],[15,6.2],[16,4.6],[16,5.2],[16,5.8],[16,6.4],[17,4.65],[17,5.3],[17,6.0],[17,6.6],[18,4.7],[18,5.4],[18,6.1],[18,6.8],[19,4.75],[19,5.5],[19,6.3],[19,7.0],[20,4.8],[20,5.6],[20,6.4],[20,7.2],[21,4.85],[21,5.7],[21,6.6],[21,7.3],[22,4.9],[22,5.8],[22,6.7],[22,7.5],[23,4.95],[23,5.9],[23,6.8],[23,7.6],[24,5.0],[24,6.0],[24,6.9],[24,7.7],[25,5.1],[25,6.1],[25,7.0],[25,7.6],[26,5.2],[26,6.2],[26,7.0],[26,7.5],[27,5.3],[27,6.3],[27,7.0],[27,7.8],
  [10.5,4.6],[11.5,5.1],[12.5,4.7],[12.5,5.3],[13.5,4.8],[13.5,5.5],[14.5,4.8],[14.5,5.3],[14.5,5.8],[15.5,4.9],[15.5,5.4],[15.5,6.0],[16.5,4.9],[16.5,5.5],[16.5,6.1],[17.5,5.0],[17.5,5.7],[17.5,6.3],[18.5,5.1],[18.5,5.8],[18.5,6.5],[19.5,5.2],[19.5,5.9],[19.5,6.7],[20.5,5.2],[20.5,6.0],[20.5,6.9],[21.5,5.3],[21.5,6.2],[21.5,7.0],[22.5,5.4],[22.5,6.3],[22.5,7.1],[23.5,5.5],[23.5,6.4],[23.5,7.3],[24.5,5.6],[24.5,6.5],[24.5,7.3],[25.5,5.6],[25.5,6.6],[25.5,7.4],[26.5,5.8],[26.5,6.7],
  [10.25,4.5],[10.75,5.0],[11.25,4.6],[11.75,5.3],[12.25,4.75],[12.75,5.5],[13.25,4.7],[13.25,5.4],[13.75,5.2],[13.75,5.8],[14.25,4.7],[14.25,5.7],[14.75,5.5],[14.75,6.1],[15.25,4.8],[15.25,5.9],[15.75,5.6],[15.75,6.3],[16.25,5.0],[16.25,6.0],[16.75,5.8],[16.75,6.5],[17.25,5.1],[17.25,6.2],[17.75,5.9],[17.75,6.7],[18.25,5.2],[18.25,6.4],[18.75,6.0],[18.75,6.9],[19.25,5.3],[19.25,6.6],[19.75,6.1],[19.75,7.1],[20.25,5.4],[20.25,6.8],[20.75,6.2],[20.75,7.2],[21.25,5.5],[21.25,6.9],[21.75,6.4],[21.75,7.4],[22.25,5.6],[22.25,7.0],[22.75,6.5],[22.75,7.5],[23.25,5.7],[23.25,7.1],[23.75,6.6],[23.75,7.6],[24.25,5.8],[24.25,7.2],[24.75,6.7],[24.75,7.5],[25.25,5.9],[25.25,7.3],[25.75,6.8],[25.75,7.4],[26.25,6.0],[26.25,7.2],[26.75,6.5],[26.75,7.6],[27.25,5.7],[27.25,7.1],
  [27.5,6.0],[28,7.2],[28.3,6.5],[28.6,5.8],[29,6.4],[29.3,7.5],[29.6,6.1],[30,6.5],[30.3,5.7],[30.7,6.4],[31,6.0],[31.5,6.6],[31.8,5.9],[28,8.1],[27.3,8.0],[27.8,5.5],[29.5,5.5]];

const eq34T = [[-1,4.0],[0,4.02],[1,4.03],[2,4.05],[3,4.06],[4,4.08],[5,4.1],[6,4.12],[7,4.15],[8,4.18],[9,4.2],[10,4.25],[11,4.3],[12,4.35],[13,4.4],[14,4.45],[15,4.5],[16,4.55],[17,4.6],[18,4.65],[19,4.7],[20,4.75],[21,4.8],[22,4.85],[23,4.9],[24,4.95],[25,5.0],[26,5.05],[27,5.1],[27.5,5.4],[28,5.2],[28.5,5.5],[29,5.1],[29.5,5.0],[30,4.95],
  [-0.5,4.01],[0.5,4.01],[1.5,4.04],[2.5,4.05],[3.5,4.07],[4.5,4.09],[5.5,4.11],[6.5,4.13],[7.5,4.16],[8.5,4.19],[9.5,4.22],
  [10.5,4.27],[11.5,4.32],[12.5,4.37],[13.5,4.42],[14.5,4.47],[15.5,4.52],[16.5,4.57],[17.5,4.62],[18.5,4.67],[19.5,4.72],[20.5,4.77],[21.5,4.82],[22.5,4.87],[23.5,4.92],[24.5,4.97],[25.5,5.02],[26.5,5.07],[27.2,5.2],[28.2,5.35],[28.8,5.3],[29.2,5.05],[29.8,4.95],[30.2,4.9],
  [10,4.05],[11,4.07],[12,4.08],[13,4.1],[14,4.1],[15,4.12],[16,4.12],[17,4.13],[18,4.14],[19,4.15],[20,4.15],[21,4.16],[22,4.17],[23,4.18],[24,4.18],[25,4.19],[26,4.2],[27,4.2],[28,4.2],[29,4.2],[30,4.2],[31,4.2],[32,4.2],
  [10.5,4.06],[11.5,4.07],[12.5,4.09],[13.5,4.1],[14.5,4.11],[15.5,4.12],[16.5,4.13],[17.5,4.13],[18.5,4.14],[19.5,4.15],[20.5,4.16],[21.5,4.16],[22.5,4.17],[23.5,4.18],[24.5,4.19],[25.5,4.19],[26.5,4.2],[27.5,4.2],[28.5,4.2],[29.5,4.2],[30.5,4.2],[31.5,4.2],
  [13,4.25],[14,4.28],[15,4.3],[16,4.35],[17,4.38],[18,4.4],[19,4.43],[20,4.45],[21,4.5],[22,4.52],[23,4.55],[24,4.6],[25,4.62],[26,4.65],[27,4.7],[28,4.75],[29,4.8],
  [16,4.25],[17,4.28],[18,4.3],[19,4.33],[20,4.35],[21,4.38],[22,4.4],[23,4.42],[24,4.45],[25,4.48],[26,4.5],[27,4.55],[28,4.6],[29,4.65],[30,4.6],
  [17.5,4.5],[18.5,4.55],[19.5,4.6],[20.5,4.65],[21.5,4.68],[22.5,4.72],[23.5,4.78],[24.5,4.8],[25.5,4.85],[26.5,4.9],[27.5,4.95],[28.5,5.0],
  [19.5,4.3],[20.5,4.3],[21.5,4.33],[22.5,4.35],[23.5,4.38],[24.5,4.4],[25.5,4.42],[26.5,4.45],[27.5,4.5],[28.5,4.5],[29.5,4.55],
  [21,4.62],[22,4.65],[23,4.7],[24,4.72],[25,4.75],[26,4.8],[27,4.85],[28,4.9],[29,4.95]];

/* ===== styling ===== */
const BLUE = '#0072BD';
const MAGENTA = '#FF00FF';
const TEXT = '#262626';
const GRID = '#e3e3e3';
const FONT = 'Liberation Sans, Arial, sans-serif';

const toXY = arr => arr.map(p => ({ x: p[0], y: p[1] }));

// MATLAB-like box with inward ticks on all four sides
function boxFrame(tickLen) {
  return {
    id: 'boxFrame',
    afterDatasetsDraw(chart) {
      const { ctx, chartArea: a, scales } = chart;
      const x = scales.x, y = scales.y;
      ctx.save();
      ctx.strokeStyle = '#3a3a3a';
      ctx.lineWidth = 1;
      ctx.beginPath();
      x.ticks.forEach(t => {
        const p = Math.round(x.getPixelForValue(t.value)) + 0.5;
        ctx.moveTo(p, a.bottom); ctx.lineTo(p, a.bottom - tickLen);
        ctx.moveTo(p, a.top); ctx.lineTo(p, a.top + tickLen);
      });
      y.ticks.forEach(t => {
        const p = Math.round(y.getPixelForValue(t.value)) + 0.5;
        ctx.moveTo(a.left, p); ctx.lineTo(a.left + tickLen, p);
        ctx.moveTo(a.right, p); ctx.lineTo(a.right - tickLen, p);
      });
      ctx.stroke();
      ctx.strokeRect(Math.round(a.left) + 0.5, Math.round(a.top) + 0.5,
                     Math.round(a.right - a.left) - 1, Math.round(a.bottom - a.top) - 1);
      ctx.restore();
    }
  };
}

function axis(min, max, tickVals, labels, fontSize, pad, fit) {
  return {
    type: 'linear', min, max,
    afterBuildTicks: s => { s.ticks = tickVals.map(v => ({ value: v })); },
    afterFit: fit,
    ticks: {
      autoSkip: false, maxRotation: 0, padding: pad, color: TEXT,
      font: { family: FONT, size: fontSize },
      callback: (v, i) => labels[i]
    },
    grid: { color: GRID, drawTicks: false },
    border: { display: false }
  };
}

Chart.defaults.animation = false;

/* ===== a) time series ===== */
new Chart(document.getElementById('topChart'), {
  type: 'line',
  data: {
    datasets: [
      { data: toXY(obsDaily), borderColor: BLUE, borderWidth: 2.6, order: 3 },
      { data: toXY(eq33Daily), borderColor: '#000', borderWidth: 2.6, order: 2 },
      { data: toXY(eq34Daily), borderColor: MAGENTA, borderWidth: 2.6, order: 1 }
    ]
  },
  options: {
    responsive: false,
    devicePixelRatio: 1,
    spanGaps: false,
    elements: { point: { radius: 0, hoverRadius: 0 }, line: { tension: 0, borderJoinStyle: 'round' } },
    layout: { padding: { left: 0, top: 37, right: 0, bottom: 0 } },
    plugins: { legend: { display: false }, tooltip: { enabled: false } },
    scales: {
      x: axis(0, 365, monthTicks, monthNames, 16, 9, s => { s.height = 52; }),
      y: axis(0, 15, rTicks, rTicks.map(String), 16, 9, s => { s.width = 73; })
    }
  },
  plugins: [boxFrame(10)]
});

/* ===== b), c), d) scatter panels ===== */
function scatterPanel(id, xMin, xMax, xTicks, obs, eq33, eq34) {
  const dots = (arr, color, r, order) => ({
    data: toXY(arr), backgroundColor: color, pointRadius: r, pointBorderWidth: 0, pointHoverRadius: 0, order
  });
  new Chart(document.getElementById(id), {
    type: 'scatter',
    data: { datasets: [dots(obs, BLUE, 1.9, 3), dots(eq33, '#000', 2.3, 2), dots(eq34, MAGENTA, 2.3, 1)] },
    options: {
      responsive: false,
      devicePixelRatio: 1,
      layout: { padding: { left: 0, top: 10, right: 10, bottom: 0 } },
      plugins: { legend: { display: false }, tooltip: { enabled: false } },
      scales: {
        x: axis(xMin, xMax, xTicks, xTicks.map(String), 16, 8, s => { s.height = 30; }),
        y: axis(0, 15, rTicks, rTicks.map(String), 16, 8, s => { s.width = 60; })
      }
    },
    plugins: [boxFrame(2)]
  });
}

scatterPanel('chartB', 0.1, 0.5, thetaTicks, obsTheta, eq33Theta, eq34Theta);
scatterPanel('chartC', 10, 32, tdTicks, obsTd, eq33Td, eq34Td);
scatterPanel('chartD', -1, 32, tTicks, obsT, eq33T, eq34T);
</script>
</body>
</html>
